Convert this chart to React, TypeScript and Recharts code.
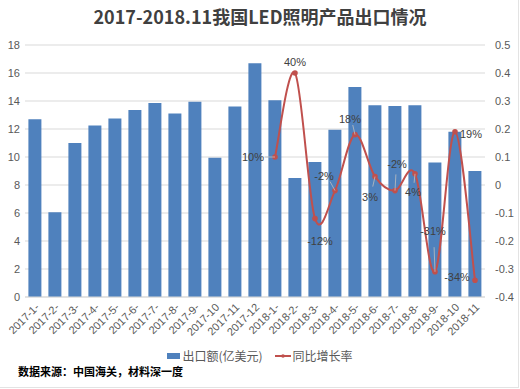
import { Bar, CartesianGrid, ComposedChart, Legend, Line, XAxis, YAxis } from 'recharts';

const months = [
  '2017-1-', '2017-2-', '2017-3-', '2017-4-', '2017-5-', '2017-6-', '2017-7-', '2017-8-',
  '2017-9-', '2017-10', '2017-11', '2017-12', '2018-1-', '2018-2-', '2018-3-', '2018-4-',
  '2018-5-', '2018-6-', '2018-7-', '2018-8-', '2018-9-', '2018-10', '2018-11',
];

// 出口额 (亿美元)
const exportValue = [
  12.7, 6.05, 11.0, 12.25, 12.75, 13.35, 13.85, 13.1, 13.95, 9.95, 13.6, 16.7,
  14.05, 8.5, 9.65, 11.95, 15.0, 13.7, 13.65, 13.7, 9.6, 11.8, 9.0,
];

// 同比增长率
const growth = [
  null, null, null, null, null, null, null, null, null, null, null, null,
  0.1, 0.4, -0.12, -0.02, 0.18, 0.03, -0.02, 0.04, -0.31, 0.19, -0.34,
];

const leftTicks = [0, 2, 4, 6, 8, 10, 12, 14, 16, 18];
const rightTicks = [-0.4, -0.3, -0.2, -0.1, 0, 0.1, 0.2, 0.3, 0.4, 0.5];

// label offset from point, [dx, dy, leader]
const labelPlace: Record<number, [number, number, boolean]> = {
  12: [-22, 0, true],
  13: [0, -11, false],
  14: [5, 22, false],
  15: [-11, -15, true],
  16: [-5, -16, true],
  17: [-5, 20, true],
  18: [2, -27, true],
  19: [-2, 18, true],
  20: [-2, -41, true],
  21: [16, 2, false],
  22: [-18, -3, false],
};

const BLUE = '#4f81bd';
const RED = '#c0504d';
const FONT = '"Liberation Sans", Arial, "Noto Sans CJK SC", sans-serif';
const CJK = '"Noto Sans CJK SC", sans-serif';

const rows = months.map((m, i) => ({ month: m, value: exportValue[i], rate: growth[i] }));

// Excel-like smooth line (Catmull-Rom through the points)
function smoothCurve(context: any) {
  let pts: number[][] = [];
  return {
    areaStart() {},
    areaEnd() {},
    lineStart() {
      pts = [];
    },
    point(x: number, y: number) {
      pts.push([+x, +y]);
    },
    lineEnd() {
      if (!pts.length) return;
      context.moveTo(pts[0][0], pts[0][1]);
      for (let i = 0; i < pts.length - 1; i++) {
        const p0 = pts[i - 1] ?? pts[i];
        const p1 = pts[i];
        const p2 = pts[i + 1];
        const p3 = pts[i + 2] ?? p2;
        context.bezierCurveTo(
          p1[0] + (p2[0] - p0[0]) / 6,
          p1[1] + (p2[1] - p0[1]) / 6,
          p2[0] - (p3[0] - p1[0]) / 6,
          p2[1] - (p3[1] - p1[1]) / 6,
          p2[0],
          p2[1],
        );
      }
    },
  };
}

function RateLabel(props: any) {
  const { x, y, value, index } = props;
  if (value == null || x == null) return null;
  const [dx, dy, leader] = labelPlace[index] ?? [0, -10, false];
  const tx = x + dx;
  const ty = y + dy;
  return (
    <g>
      {leader && (
        <line
          x1={x + dx * 0.45}
          y1={y + dy * (dy < 0 ? 0.6 : 0.5)}
          x2={x}
          y2={y}
          stroke="#bfbfbf"
          strokeWidth={0.8}
        />
      )}
      <text
        x={tx}
        y={ty}
        textAnchor="middle"
        dominantBaseline="central"
        fontSize={11}
        fill="#404040"
        fontFamily={FONT}
      >
        {`${Math.round(value * 100)}%`}
      </text>
    </g>
  );
}

function MonthTick(props: any) {
  const { x, y, payload } = props;
  return (
    <g transform={`translate(${x + 5},${y + 9})`}>
      <text
        x={0}
        y={0}
        textAnchor="end"
        transform="rotate(-45)"
        fontSize={11}
        fill="#595959"
        fontFamily={FONT}
      >
        {payload.value}
      </text>
    </g>
  );
}

function LegendBox() {
  return (
    <div
      style={{
        display: 'flex',
        justifyContent: 'center',
        alignItems: 'center',
        fontSize: 12,
        color: '#595959',
        fontFamily: CJK,
      }}
    >
      <span style={{ display: 'inline-block', width: 13, height: 6, background: BLUE, marginRight: 2 }} />
      <span>出口额(亿美元)</span>
      <svg width={16} height={8} style={{ marginLeft: 12, marginRight: 2 }}>
        <line x1={0} y1={4} x2={16} y2={4} stroke={RED} strokeWidth={2} />
        <circle cx={8} cy={4} r={1.8} fill={RED} />
      </svg>
      <span>同比增长率</span>
    </div>
  );
}

export default function App() {
  return (
    <div
      style={{
        position: 'absolute',
        left: 0,
        top: 0,
        width: 520,
        height: 389,
        background: '#fff',
        overflow: 'hidden',
      }}
    >
      <div
        style={{
          position: 'absolute',
          left: 0,
          top: 4,
          width: 520,
          textAlign: 'center',
          fontFamily: CJK,
          fontWeight: 700,
          fontSize: 18,
          color: '#404040',
          lineHeight: '24px',
        }}
      >
        2017-2018.11我国LED照明产品出口情况
      </div>
      <ComposedChart
        width={520}
        height={389}
        data={rows}
        margin={{ top: 45, right: 0, bottom: 0, left: 0 }}
        barCategoryGap="17%"
      >
        <CartesianGrid vertical={false} stroke="#d9d9d9" yAxisId="left" />
        <XAxis
          dataKey="month"
          interval={0}
          height={92}
          tickLine={false}
          tickSize={0}
          axisLine={{ stroke: '#d9d9d9' }}
          tick={<MonthTick />}
        />
        <YAxis
          yAxisId="left"
          width={25}
          domain={[0, 18]}
          ticks={leftTicks}
          axisLine={false}
          tickLine={false}
          tickSize={0}
          tickMargin={5}
          tick={{ fontSize: 11, fill: '#595959', fontFamily: FONT }}
        />
        <YAxis
          yAxisId="right"
          orientation="right"
          width={35}
          domain={[-0.4, 0.5]}
          ticks={rightTicks}
          axisLine={false}
          tickLine={false}
          tickSize={0}
          tickMargin={10}
          tickFormatter={(v: number) => (v === 0 ? '0' : String(v))}
          tick={{ fontSize: 11, fill: '#595959', fontFamily: FONT, textAnchor: 'start' }}
        />
        <Legend
          layout="horizontal"
          verticalAlign="middle"
          align="center"
          wrapperStyle={{ top: 347, left: 0, width: 520 }}
          content={<LegendBox />}
        />
        <Bar yAxisId="left" dataKey="value" fill={BLUE} isAnimationActive={false} />
        <Line
          yAxisId="right"
          dataKey="rate"
          type={smoothCurve as any}
          stroke={RED}
          strokeWidth={2}
          dot={{ r: 1.8, fill: RED, stroke: RED }}
          activeDot={false}
          isAnimationActive={false}
          label={<RateLabel />}
        />
      </ComposedChart>
      <div
        style={{
          position: 'absolute',
          left: 18,
          top: 363,
          fontFamily: CJK,
          fontWeight: 700,
          fontSize: 11,
          color: '#000',
        }}
      >
        数据来源：中国海关，材料深一度
      </div>
      <div style={{ position: 'absolute', left: 518, top: 0, width: 1, height: 388, background: '#e3e3e3' }} />
      <div style={{ position: 'absolute', left: 0, top: 387, width: 519, height: 1, background: '#e3e3e3' }} />
    </div>
  );
}
